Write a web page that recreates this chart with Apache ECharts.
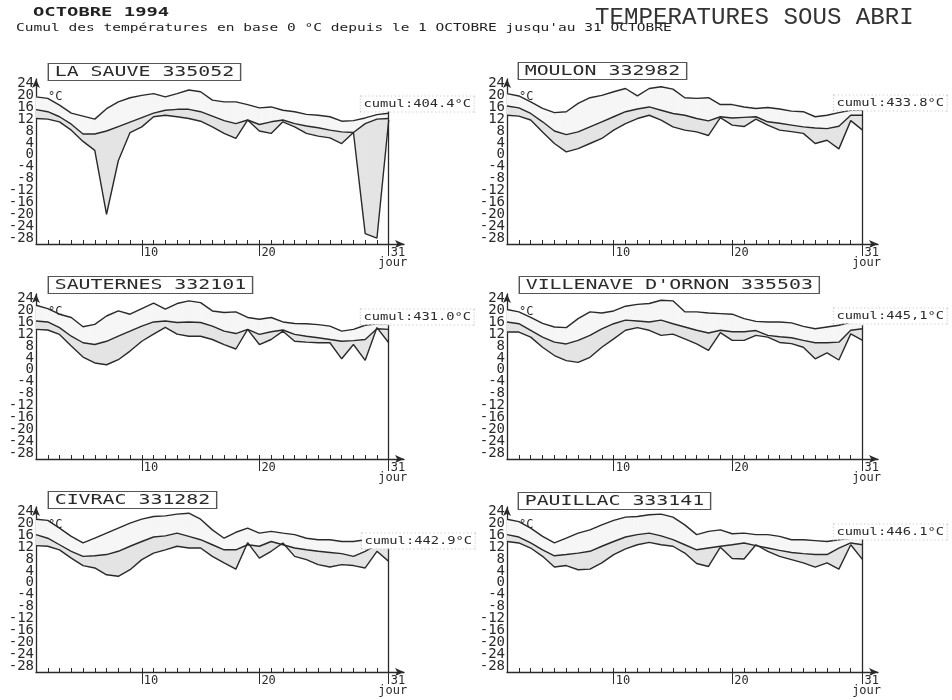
<!DOCTYPE html>
<html><head><meta charset="utf-8">
<script src="https://cdn.jsdelivr.net/npm/echarts@6/dist/echarts.min.js"></script>
<style>html,body{margin:0;padding:0;background:#fff}#c{width:952px;height:700px}</style>
</head><body><div id="c"></div>
<script>
// ---- data ----
const days = [1,2,3,4,5,6,7,8,9,10,11,12,13,14,15,16,17,18,19,20,21,22,23,24,25,26,27,28,29,30,31];
const xLabels = [10, 20, 31];
const yTicks = [-28,-24,-20,-16,-12,-8,-4,0,4,8,12,16,20,24];
const stations = ['LA SAUVE 335052','MOULON 332982','SAUTERNES 332101',"VILLENAVE D'ORNON 335503",'CIVRAC 331282','PAUILLAC 333141'];
const cumuls = ['cumul:404.4°C','cumul:433.8°C','cumul:431.0°C','cumul:445,1°C','cumul:442.9°C','cumul:446.1°C'];

const laSauveTop = [19.5,19,16.7,14,13,12,15.5,17.8,19.2,20,20.6,19.5,20.6,21.8,21.2,18.4,17.8,17.8,16.9,15.8,16.1,15,14.5,13.6,13.3,12.8,11.3,11.5,12.4,13.5,14];
const laSauveMid = [15.2,14.5,12.8,10.3,7,7,8,9.5,11,12.5,14,15,15.3,15.3,14.5,13,11.5,10.5,11.7,10.2,11.1,11.7,10.5,9.7,9.1,8.3,7.7,7.5,10.5,12,12.2];
const laSauveLow = [12.2,12,11.1,8.3,4.5,1.5,-20,-2,7.5,9.4,12.8,13.3,12.8,12.2,11.3,9.4,7.2,5.5,11.7,8,7.2,11.1,9.4,7.2,6.3,5.7,3.8,7.5,-26.5,-28,11.7];

const moulonTop = [20.6,19.8,17.8,15.6,14.2,14.5,17.3,19.2,20,21.2,22.3,19.8,22.3,22.9,22.1,19.2,19,19.2,16.9,16.9,16.1,15.6,15.9,15.4,14.7,14.5,12.8,13.3,14.2,15,15];
const moulonMid = [16.4,15.8,13.9,11.1,8,6.8,7.7,9.4,11.1,12.8,14.5,15.4,16.1,15,13.9,13.3,12.2,11.4,12.8,12.4,12.6,12.8,11.1,10.6,10,9.4,9,8.8,9.6,13.3,13.3];
const moulonLow = [13.3,13,11.7,7.7,3.8,1,2.1,3.8,5.5,8.3,10.5,12.2,13.3,11.7,9.4,8.3,7.7,6.5,12.5,10,9.5,12,10,8.3,7.8,7.2,3.8,4.9,2,11.5,8.3];

const sauternesTop = [21.7,20.6,18.7,17.6,14.5,15.3,18.1,19.8,18.7,20.6,22.4,20.4,22.3,23.2,22.6,19.8,19.3,19.5,17.6,17,17.6,16.1,15.6,15.5,15.2,14.7,13,13.6,15,15.5,15.5];
const sauternesMid = [16.4,16.1,14.2,11.3,9.1,8.5,9.6,11.3,13,14.7,16.1,16.4,15.9,16.1,15.9,14.7,13,12.2,13.6,11.9,12.8,13.4,11.9,11.3,10.8,10.2,9.6,9.8,10.2,13.8,13.6];
const sauternesLow = [13.6,13.4,11.9,8,4.3,2.3,1.7,3.4,6.3,9.6,12,14.3,12,11.3,11.3,10.2,8.5,7,13.6,8.5,10.2,13,9.6,9.3,9.1,9.1,3.7,8.5,3.2,14.2,9.1];

const villenaveTop = [20.3,19.5,17.6,15.6,14.4,14.2,17.2,19.5,19.1,19.8,21.4,22,22.3,23.4,23.2,19.5,19.5,19.1,18.9,18.7,17.2,16.3,16.1,16.1,15.8,14.6,13.8,14.4,15,16,16];
const villenaveMid = [16.1,15.5,13.3,11,9.3,8.7,9.9,11.6,13.8,15.5,16.7,16.4,16.1,16.7,15.5,14.4,13.3,12.4,13.3,12.8,12.8,13.2,11.6,11.1,10.8,9.9,9.1,9.1,9.3,13.3,13.8];
const villenaveLow = [12.7,12.7,11,7.6,4.8,3.1,2.5,4.2,7.6,10.4,13.3,14.2,13.3,11.6,12,10.4,8.7,6.5,12.5,9.9,9.9,11.6,11,9.2,8.8,7.6,3.7,5.7,3.3,12.1,9.9];

const civracTop = [21.4,21,18.4,15.6,13.4,15,16.7,18.4,20.1,21.4,22.3,22.5,23.1,23.4,21.4,17.8,15,17,18.4,16.7,17.3,16.7,16.2,15,14.5,14.5,13.9,13.9,14.5,15,15];
const civracMid = [16.2,15,12.8,10.6,8.9,9.1,9.5,10.6,12.3,13.9,15.4,15.8,16.7,15.6,14.5,12.8,11.1,11.1,12.8,12.3,13.9,12.8,11.7,11.1,10.6,10.2,9.8,8.9,10.6,12.8,12.8];
const civracLow = [12.5,12.3,11.1,8.3,5.8,5,2.7,2.2,4.4,7.8,10,11.1,12.3,11.7,11.7,8.9,6.7,4.6,13.5,8.3,10.6,13.4,8.9,7.8,6.1,5.3,6.1,5.8,5,10.6,7.2];

const pauillacTop = [21.4,20.6,18.4,15.6,13.4,15,16.7,17.8,19.5,21,22.1,22.3,22.9,23.1,22.1,19.5,16.2,17.3,17.8,16.5,16.7,16.2,16.2,15.6,14.5,14.5,14.2,13.9,14.5,15,15];
const pauillacMid = [16.2,15.4,13.4,11.1,9.1,9.5,10,10.6,12.3,13.9,15.4,16.2,16.7,15.8,14.5,12.8,11.1,11.7,12.3,12.8,13.4,12.5,11.7,10.9,10.2,9.8,9.5,9.5,11.7,13.4,12.8];
const pauillacLow = [13.9,13.4,11.7,8.9,5.3,5.8,4.4,4.6,6.7,9.5,11.4,12.8,13.6,12.8,12.3,10,6.5,5.5,12,8.2,8,12.8,10.6,8.9,7.8,6.7,5.3,6.7,4.6,12.8,7.8];

const tops = [laSauveTop, moulonTop, sauternesTop, villenaveTop, civracTop, pauillacTop];
const mids = [laSauveMid, moulonMid, sauternesMid, villenaveMid, civracMid, pauillacMid];
const lows = [laSauveLow, moulonLow, sauternesLow, villenaveLow, civracLow, pauillacLow];

// ---- layout ----
const MONO = '"DejaVu Sans Mono", monospace';
const INK = '#2a2a2a';
const XMAX = 32.3, YMIN = -30, YMAX = 25.5;
const layout = [
  {left:36,  top:79,  width:368, height:165, box:[49,64],  cum:[361,104]},
  {left:507, top:79,  width:371, height:165, box:[519,63], cum:[834,103]},
  {left:36,  top:294, width:368, height:165, box:[49,277], cum:[361,317]},
  {left:507, top:294, width:371, height:165, box:[520,277],cum:[834,316]},
  {left:36,  top:507, width:368, height:165, box:[49,492], cum:[362,541]},
  {left:507, top:507, width:371, height:165, box:[519,493],cum:[834,532]}
];

function bandSeries(i, upper, lower, color) {
  return {
    type:'custom', xAxisIndex:2*i, yAxisIndex:i, silent:true, z:1, animation:false,
    data: days.map((d,k) => [d, upper[k], lower[k]]),
    encode:{x:0, y:[1,2]},
    renderItem: (params, api) => {
      const k = params.dataIndex;
      if (k >= days.length - 1) return null;
      const p1 = api.coord([days[k], upper[k]]);
      const p2 = api.coord([days[k+1], upper[k+1]]);
      const p3 = api.coord([days[k+1], lower[k+1]]);
      const p4 = api.coord([days[k], lower[k]]);
      return {type:'polygon', shape:{points:[p1,p2,p3,p4]}, style:{fill:color, stroke:color, lineWidth:0.6}};
    }
  };
}

const grids = [], xAxes = [], yAxes = [], series = [], graphics = [];
layout.forEach((L, i) => {
  grids.push({left:L.left, top:L.top, width:L.width, height:L.height});
  xAxes.push({
    gridIndex:i, type:'value', min:1, max:XMAX,
    axisLine:{show:true, onZero:false, symbol:['none','arrow'], symbolSize:[6,9], lineStyle:{color:INK, width:1.3}},
    axisTick:{show:true, inside:true, length:4, customValues:days, lineStyle:{color:INK}},
    axisLabel:{customValues:xLabels, align:'left', margin:3, padding:[0,0,0,2], fontFamily:MONO, fontSize:12, color:INK},
    splitLine:{show:false}
  });
  xAxes.push({
    gridIndex:i, type:'value', min:1, max:XMAX, position:'bottom',
    axisLine:{show:false, onZero:false},
    axisTick:{show:true, inside:false, length:12, customValues:xLabels, lineStyle:{color:INK}},
    axisLabel:{show:false}, splitLine:{show:false}
  });
  yAxes.push({
    gridIndex:i, type:'value', min:YMIN, max:YMAX,
    axisLine:{show:true, onZero:false, symbol:['none','arrow'], symbolSize:[6,9], lineStyle:{color:INK, width:1.3}},
    axisTick:{show:false},
    axisLabel:{customValues:[YMIN].concat(yTicks, [YMAX]), showMinLabel:false, showMaxLabel:false, margin:2,
      formatter: v => (v === YMIN || v === YMAX) ? '' : String(v),
      fontFamily:MONO, fontSize:14, color:INK},
    splitLine:{show:false}
  });
  const top = tops[i], mid = mids[i], low = lows[i];
  series.push(bandSeries(i, top, mid, '#f6f6f6'));
  series.push(bandSeries(i, mid, low, '#e4e4e4'));
  const pts = arr => days.map((d,k) => [d, arr[k]]);
  [top, mid, low].forEach((arr, j) => {
    const s = {type:'line', xAxisIndex:2*i, yAxisIndex:i, symbol:'none', silent:true, animation:false,
      z:3, lineStyle:{color:INK, width:1.4}, data:pts(arr)};
    if (j === 0) s.markLine = {silent:true, symbol:'none', label:{show:false}, lineStyle:{color:INK, width:1.3, type:'solid'},
      data:[[{coord:[31,YMIN]},{coord:[31,15]}]]};
    series.push(s);
  });
  graphics.push({type:'text', x:L.box[0], y:L.box[1], scaleX:1.42, z:100,
    style:{text:stations[i], font:'14px ' + MONO, fill:INK, backgroundColor:'#fff', borderColor:'#555', borderWidth:1, padding:[1,4,1,4]}});
  graphics.push({type:'text', x:L.left+12, y:L.top+18, z:100,
    style:{text:'°C', font:'12px ' + MONO, fill:INK, verticalAlign:'middle'}});
  graphics.push({type:'text', x:L.cum[0], y:L.cum[1], scaleX:1.25, z:100,
    style:{text:cumuls[i], font:'11px ' + MONO, fill:INK, verticalAlign:'middle', backgroundColor:'#fff', borderColor:'#ccc', borderWidth:1, borderDash:[1,2], padding:[2,2,2,2]}});
  graphics.push({type:'text', x:L.left + L.width*30/(XMAX-1) + 4, y:L.top + L.height + 19, z:100,
    style:{text:'jour', font:'12px ' + MONO, fill:INK, align:'center', verticalAlign:'middle'}});
});

graphics.push({type:'text', x:33, y:13, scaleX:1.45, z:100,
  style:{text:'OCTOBRE 1994', font:'bold 13px ' + MONO, fill:'#222', verticalAlign:'middle'}});
graphics.push({type:'text', x:16, y:28, scaleX:1.32, z:100,
  style:{text:"Cumul des températures en base 0 °C depuis le 1 OCTOBRE jusqu'au 31 OCTOBRE", font:'11px ' + MONO, fill:'#222', verticalAlign:'middle'}});
graphics.push({type:'text', x:595, y:18, scaleX:1.05, z:100,
  style:{text:'TEMPERATURES SOUS ABRI', font:'23px "Liberation Mono", monospace', fill:'#333', verticalAlign:'middle'}});

const chart = echarts.init(document.getElementById('c'), null, {renderer:'canvas'});
chart.setOption({
  backgroundColor:'#fff', animation:false,
  grid:grids, xAxis:xAxes, yAxis:yAxes, series:series, graphic:graphics
});
</script>
</body></html>
